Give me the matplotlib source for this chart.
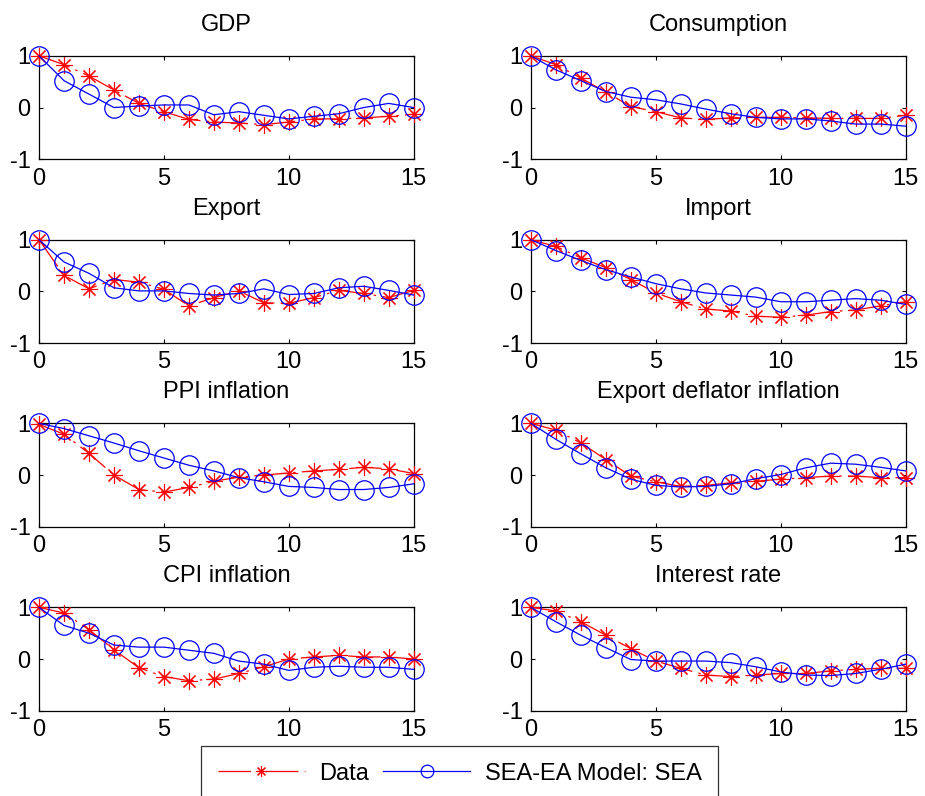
import matplotlib
matplotlib.use("Agg")
import matplotlib.pyplot as plt
import numpy as np

plt.rcParams["font.family"] = ["Liberation Sans", "DejaVu Sans"]
plt.rcParams["font.size"] = 17
plt.rcParams["axes.unicode_minus"] = False

horizon = np.arange(16)

titles = [
    "GDP", "Consumption",
    "Export", "Import",
    "PPI inflation", "Export deflator inflation",
    "CPI inflation", "Interest rate",
]

# autocorrelations from the data
gdp_data = [1.0, 0.83, 0.61, 0.34, 0.08, -0.08, -0.23, -0.28, -0.30, -0.33, -0.28, -0.22, -0.22, -0.20, -0.17, -0.13]
cons_data = [1.0, 0.83, 0.57, 0.30, 0.02, -0.08, -0.20, -0.23, -0.20, -0.19, -0.19, -0.20, -0.21, -0.21, -0.21, -0.15]
exp_data = [1.0, 0.31, 0.05, 0.23, 0.18, 0.04, -0.28, -0.12, 0.01, -0.22, -0.23, -0.12, 0.02, -0.04, -0.12, 0.02]
imp_data = [1.0, 0.87, 0.65, 0.46, 0.23, -0.03, -0.20, -0.34, -0.38, -0.48, -0.50, -0.46, -0.39, -0.36, -0.28, -0.20]
ppi_data = [0.98, 0.79, 0.42, 0.0, -0.28, -0.33, -0.24, -0.12, -0.04, 0.0, 0.04, 0.08, 0.11, 0.15, 0.12, 0.03]
xdef_data = [1.0, 0.87, 0.62, 0.30, -0.02, -0.13, -0.22, -0.20, -0.15, -0.12, -0.08, -0.05, -0.02, -0.02, -0.05, -0.05]
cpi_data = [1.0, 0.89, 0.57, 0.18, -0.17, -0.34, -0.42, -0.39, -0.28, -0.15, 0.0, 0.04, 0.07, 0.04, 0.04, 0.0]
rate_data = [1.0, 0.93, 0.72, 0.46, 0.20, -0.04, -0.18, -0.31, -0.34, -0.31, -0.28, -0.28, -0.23, -0.20, -0.18, -0.18]

# autocorrelations implied by the model
gdp_model = [1.0, 0.52, 0.26, 0.0, 0.03, 0.05, 0.05, -0.14, -0.08, -0.15, -0.22, -0.17, -0.12, 0.0, 0.08, 0.0]
cons_model = [1.0, 0.73, 0.52, 0.31, 0.20, 0.15, 0.07, -0.03, -0.12, -0.19, -0.22, -0.22, -0.26, -0.32, -0.32, -0.36]
exp_model = [1.0, 0.57, 0.35, 0.07, 0.01, 0.01, -0.04, -0.07, -0.04, 0.05, -0.06, -0.04, 0.07, 0.10, 0.02, -0.07]
imp_model = [1.0, 0.79, 0.60, 0.42, 0.28, 0.15, 0.05, -0.03, -0.07, -0.11, -0.20, -0.20, -0.17, -0.14, -0.17, -0.25]
ppi_model = [1.0, 0.90, 0.76, 0.62, 0.47, 0.33, 0.19, 0.08, -0.05, -0.13, -0.22, -0.24, -0.28, -0.28, -0.24, -0.17]
xdef_model = [1.0, 0.69, 0.41, 0.14, -0.08, -0.20, -0.23, -0.22, -0.17, -0.07, 0.01, 0.14, 0.23, 0.21, 0.15, 0.08]
cpi_model = [1.0, 0.65, 0.50, 0.27, 0.23, 0.23, 0.17, 0.11, -0.04, -0.10, -0.22, -0.16, -0.14, -0.16, -0.16, -0.20]
rate_model = [1.0, 0.72, 0.46, 0.22, -0.01, -0.04, -0.04, -0.04, -0.07, -0.15, -0.25, -0.31, -0.32, -0.28, -0.20, -0.10]

data_series = [gdp_data, cons_data, exp_data, imp_data, ppi_data, xdef_data, cpi_data, rate_data]
model_series = [gdp_model, cons_model, exp_model, imp_model, ppi_model, xdef_model, cpi_model, rate_model]

fig = plt.figure(figsize=(9.25, 7.96), dpi=100)

col_left = [0.0422, 0.574]
col_width = 0.405
row_bottom = [0.800, 0.569, 0.3383, 0.1072]
row_height = 0.1298

asterisk = (8, 2, 0)

for i, (title, d, m) in enumerate(zip(titles, data_series, model_series)):
    r, c = divmod(i, 2)
    ax = fig.add_axes([col_left[c], row_bottom[r], col_width, row_height])
    (line_d,) = ax.plot(horizon, d, color="red", linewidth=0.9, marker=asterisk,
                        markersize=12, markeredgewidth=0.8, label="Data",
                        clip_on=False, zorder=3)
    line_d.set_dashes([26, 5, 2, 5])
    ax.plot(horizon, m, color="blue", linewidth=0.9, marker="o", markersize=14,
            markerfacecolor="none", markeredgewidth=0.9, label="SEA-EA Model: SEA",
            clip_on=False, zorder=3)
    ax.set_xlim(0, 15)
    ax.set_ylim(-1, 1)
    ax.set_xticks([0, 5, 10, 15])
    ax.set_yticks([-1, 0, 1])
    ax.tick_params(direction="in", top=True, right=True, length=3, width=0.8, pad=6)
    for spine in ax.spines.values():
        spine.set_linewidth(0.9)
    ax.set_title(title, fontsize=17, pad=18)
    if i == 0:
        handles, labels = ax.get_legend_handles_labels()

leg = fig.legend(handles, labels, loc="upper center", ncol=2,
                 bbox_to_anchor=(0.4968, 0.0628), fontsize=17, frameon=True,
                 fancybox=False, edgecolor="black", handlelength=3.7,
                 markerscale=0.65, borderpad=0.7, borderaxespad=0.0,
                 columnspacing=0.6, handletextpad=0.6)
leg.get_frame().set_linewidth(0.9)

fig.savefig("out.png", dpi=100)
